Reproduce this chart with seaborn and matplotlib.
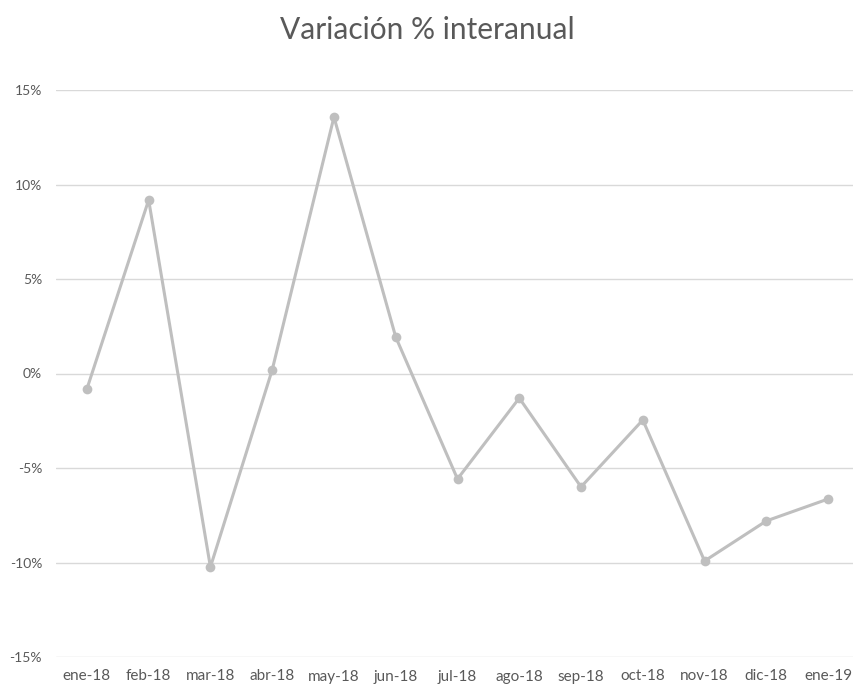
import matplotlib
matplotlib.use("Agg")
import matplotlib.pyplot as plt
import seaborn as sns
import pandas as pd
from matplotlib.ticker import FuncFormatter

months = ["ene-18", "feb-18", "mar-18", "abr-18", "may-18", "jun-18", "jul-18",
          "ago-18", "sep-18", "oct-18", "nov-18", "dic-18", "ene-19"]
values = [-0.82, 9.18, -10.24, 0.19, 13.57, 1.93, -5.58, -1.30, -6.0, -2.46, -9.92, -7.8, -6.64]

df = pd.DataFrame({"mes": months, "var": values})

sns.set_style("white")
plt.rcParams["font.family"] = ["Lato", "DejaVu Sans"]

fig = plt.figure(figsize=(8.54, 6.84), dpi=100)
ax = fig.add_axes([56/854, 27/684, 803/854, 567/684])

sns.lineplot(data=df, x="mes", y="var", ax=ax, color="#BFBFBF", linewidth=2.2,
             marker="o", markersize=7, markeredgewidth=0, sort=False)

ax.set_xlim(-0.5, 12.5)
ax.set_ylim(-15, 15)
ax.set_yticks([-15, -10, -5, 0, 5, 10, 15])
ax.yaxis.set_major_formatter(FuncFormatter(lambda v, p: f"{int(v)}%"))
ax.grid(axis="y", color="#D9D9D9", linewidth=1)
ax.set_axisbelow(True)
for s in ax.spines.values():
    s.set_visible(False)
ax.tick_params(axis="y", length=0, labelsize=10, labelcolor="#595959", pad=10)
ax.tick_params(axis="x", length=0, labelsize=11, labelcolor="#595959", pad=9)
ax.set_xlabel("")
ax.set_ylabel("")
fig.text(0.5, 0.956, "Variación % interanual", ha="center", va="center",
         fontsize=21.5, color="#595959")

fig.savefig("out.png", dpi=100)
